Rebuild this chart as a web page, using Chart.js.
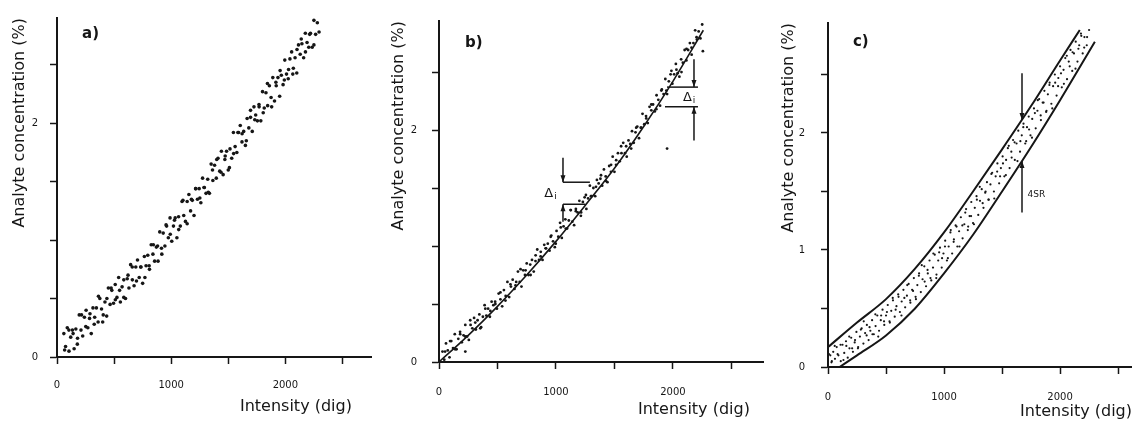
<!DOCTYPE html>
<html>
<head>
<meta charset="utf-8">
<script src="https://cdn.jsdelivr.net/npm/chart.js@4.4.0/dist/chart.umd.min.js"></script>
<style>
  html, body { margin: 0; padding: 0; background: #fff; }
  #wrap { position: relative; width: 1132px; height: 423px; overflow: hidden; }
  canvas { position: absolute; top: 0; }
</style>
</head>
<body>
<div id="wrap">
  <canvas id="panelA" width="380" height="423" style="left:0px"></canvas>
  <canvas id="panelB" width="390" height="423" style="left:378px"></canvas>
  <canvas id="panelC" width="370" height="423" style="left:766px"></canvas>
</div>
<script>
// intensity (dig) vs analyte concentration (%)
const xTickValues = [0, 500, 1000, 1500, 2000, 2500];
const xTickLabels = ["0", "1000", "2000"];
const yTickLabelsAB = ["0", "2"];
const yTickLabelsC = ["0", "1", "2"];
const xTitle = "Intensity (dig)";
const yTitle = "Analyte concentration (%)";

// a) raw calibration measurements
const aPoints = [
  [60,0.20],[75,0.09],[90,0.25],[105,0.05],[120,0.17],[135,0.23],[150,0.07],[165,0.24],[180,0.16],[195,0.36],[210,0.23],[225,0.18],[240,0.34],[255,0.40],[270,0.25],
  [285,0.33],[300,0.20],[315,0.42],[330,0.34],[345,0.42],[360,0.30],[375,0.50],[390,0.41],[405,0.36],[420,0.47],[435,0.35],[450,0.59],[465,0.45],[480,0.57],[495,0.46],
  [510,0.62],[525,0.51],[540,0.68],[555,0.47],[570,0.60],[585,0.66],[600,0.50],[615,0.67],[630,0.59],[645,0.79],[660,0.66],[675,0.61],[690,0.77],[705,0.83],[720,0.68],
  [735,0.77],[750,0.63],[765,0.86],[780,0.78],[795,0.87],[810,0.75],[825,0.96],[840,0.88],[855,0.82],[870,0.94],[885,0.82],[900,1.07],[915,0.93],[930,1.06],[945,0.95],
  [960,1.12],[975,1.02],[990,1.19],[1005,0.99],[1020,1.12],[1035,1.19],[1050,1.02],[1065,1.20],[1080,1.12],[1095,1.33],[1110,1.21],[1125,1.16],[1140,1.33],[1155,1.39],[1170,1.25],
  [1185,1.34],[1200,1.21],[1215,1.44],[1230,1.35],[1245,1.44],[1260,1.32],[1275,1.53],[1290,1.45],[1305,1.40],[1320,1.52],[1335,1.40],[1350,1.65],[1365,1.51],[1380,1.64],[1395,1.53],
  [1410,1.70],[1425,1.59],[1440,1.76],[1455,1.56],[1470,1.69],[1485,1.76],[1500,1.60],[1515,1.78],[1530,1.70],[1545,1.92],[1560,1.80],[1575,1.75],[1590,1.92],[1605,1.98],[1620,1.84],
  [1635,1.93],[1650,1.81],[1665,2.04],[1680,1.96],[1695,2.05],[1710,1.93],[1725,2.14],[1740,2.07],[1755,2.02],[1770,2.14],[1785,2.02],[1800,2.27],[1815,2.13],[1830,2.26],[1845,2.15],
  [1860,2.32],[1875,2.22],[1890,2.39],[1905,2.19],[1920,2.32],[1935,2.39],[1950,2.23],[1965,2.41],[1980,2.33],[1995,2.54],[2010,2.42],[2025,2.38],[2040,2.55],[2055,2.61],[2070,2.47],
  [2085,2.56],[2100,2.43],[2115,2.67],[2130,2.59],[2145,2.68],[2160,2.56],[2175,2.77],[2190,2.69],[2205,2.65],[2220,2.77],[2235,2.65],[2250,2.88],[2265,2.76],[2280,2.86],[2295,2.78],
  [67,0.06],[104,0.23],[141,0.20],[178,0.11],[215,0.36],[252,0.26],[289,0.37],[326,0.28],[363,0.52],[400,0.30],[437,0.50],[474,0.59],[511,0.49],[548,0.57],[585,0.51],
  [622,0.70],[659,0.77],[696,0.65],[733,0.77],[770,0.68],[807,0.78],[844,0.96],[881,0.95],[918,0.88],[955,1.13],[992,1.05],[1029,1.17],[1066,1.09],[1103,1.34],[1140,1.14],
  [1177,1.35],[1214,1.44],[1251,1.36],[1288,1.45],[1325,1.41],[1362,1.60],[1399,1.69],[1436,1.58],[1473,1.72],[1510,1.62],[1547,1.74],[1584,1.92],[1621,1.91],[1658,1.85],[1695,2.11],
  [1732,2.03],[1769,2.16],[1806,2.09],[1843,2.34],[1880,2.14],[1917,2.35],[1954,2.45],[1991,2.37],[2028,2.46],[2065,2.42],[2102,2.63],[2139,2.72],[2176,2.61],[2213,2.76],[2250,2.67]
];

// b) measurements with the fitted calibration curve
const bPoints = [
  [30,0.09],[45,0.02],[60,0.16],[75,0.10],[90,0.04],[105,0.18],[120,0.12],[135,0.24],[150,0.11],[165,0.20],[180,0.26],[195,0.17],[210,0.23],[225,0.32],[240,0.22],
  [255,0.19],[270,0.32],[285,0.29],[300,0.38],[315,0.28],[330,0.36],[345,0.41],[360,0.30],[375,0.39],[390,0.49],[405,0.40],[420,0.46],[435,0.39],[450,0.52],[465,0.49],
  [480,0.52],[495,0.46],[510,0.59],[525,0.54],[540,0.48],[555,0.62],[570,0.57],[585,0.69],[600,0.56],[615,0.65],[630,0.71],[645,0.63],[660,0.69],[675,0.78],[690,0.69],
  [705,0.65],[720,0.79],[735,0.75],[750,0.85],[765,0.75],[780,0.84],[795,0.88],[810,0.78],[825,0.87],[840,0.97],[855,0.88],[870,0.95],[885,0.88],[900,1.01],[915,0.98],
  [930,1.02],[945,0.96],[960,1.09],[975,1.04],[990,0.99],[1005,1.13],[1020,1.08],[1035,1.20],[1050,1.07],[1065,1.17],[1080,1.23],[1095,1.15],[1110,1.22],[1125,1.31],[1140,1.21],
  [1155,1.18],[1170,1.32],[1185,1.29],[1200,1.39],[1215,1.29],[1230,1.38],[1245,1.42],[1260,1.32],[1275,1.41],[1290,1.52],[1305,1.43],[1320,1.50],[1335,1.43],[1350,1.57],[1365,1.54],
  [1380,1.58],[1395,1.52],[1410,1.66],[1425,1.60],[1440,1.55],[1455,1.69],[1470,1.64],[1485,1.77],[1500,1.64],[1515,1.74],[1530,1.80],[1545,1.73],[1560,1.80],[1575,1.89],[1590,1.80],
  [1605,1.77],[1620,1.91],[1635,1.88],[1650,1.99],[1665,1.89],[1680,1.98],[1695,2.03],[1710,1.93],[1725,2.02],[1740,2.14],[1755,2.05],[1770,2.12],[1785,2.06],[1800,2.20],[1815,2.17],
  [1830,2.22],[1845,2.16],[1860,2.30],[1875,2.26],[1890,2.21],[1905,2.35],[1920,2.31],[1935,2.44],[1950,2.31],[1965,2.42],[1980,2.48],[1995,2.40],[2010,2.48],[2025,2.57],[2040,2.49],
  [2055,2.46],[2070,2.61],[2085,2.58],[2100,2.69],[2115,2.60],[2130,2.69],[2145,2.75],[2160,2.65],[2175,2.75],[2190,2.86],[2205,2.78],[2220,2.85],[2235,2.79],[2250,2.91],
  [52,0.09],[95,0.18],[138,0.11],[181,0.24],[224,0.22],[267,0.36],[310,0.34],[353,0.29],[396,0.46],[439,0.44],[482,0.50],[525,0.60],[568,0.53],[611,0.67],[654,0.66],
  [697,0.80],[740,0.79],[783,0.75],[826,0.92],[869,0.91],[912,0.98],[955,1.08],[998,1.02],[1041,1.16],[1084,1.15],[1127,1.31],[1170,1.30],[1213,1.26],[1256,1.44],[1299,1.43],
  [1342,1.51],[1385,1.61],[1428,1.56],[1471,1.70],[1514,1.70],[1557,1.86],[1600,1.86],[1643,1.84],[1686,2.02],[1729,2.02],[1772,2.10],[1815,2.22],[1858,2.18],[1901,2.34],[1944,2.34],
  [1987,2.51],[2030,2.52],[2073,2.50],[2116,2.70],[2159,2.71],[2202,2.80],[225,0.09],[1950,1.84],[2256,2.68]
];
const bFitIntensity = [0, 250, 500, 750, 1000, 1250, 1500, 1750, 2000, 2260];
const bFitConc = [0, 0.23, 0.48, 0.75, 1.04, 1.35, 1.67, 2.03, 2.42, 2.86];

// c) measurements inside the 4 SR band
const cPoints = [
  [20,0.10],[30,0.04],[45,0.13],[60,0.07],[75,0.17],[90,0.10],[110,0.05],[125,0.19],[140,0.12],[155,0.22],[170,0.08],[185,0.16],[200,0.25],[215,0.13],[230,0.21],[245,0.30],[260,0.17],
  [275,0.26],[290,0.33],[305,0.20],[320,0.29],[335,0.36],[350,0.23],[365,0.31],[380,0.40],[395,0.28],[410,0.35],[425,0.44],[440,0.31],[455,0.40],[470,0.49],[485,0.36],[500,0.44],
  [515,0.53],[530,0.39],[545,0.48],[560,0.57],[575,0.43],[590,0.52],[605,0.62],[620,0.47],[635,0.56],[650,0.66],[665,0.51],[680,0.61],[695,0.71],[710,0.55],[725,0.66],[740,0.76],
  [755,0.60],[770,0.70],[785,0.80],[800,0.64],[815,0.75],[830,0.86],[845,0.69],[860,0.80],[875,0.91],[890,0.74],[905,0.85],[920,0.96],[935,0.79],[950,0.91],[965,1.02],[980,0.85],[995,0.97],
  [1010,1.08],[1025,0.91],[1040,1.03],[1055,1.15],[1070,0.97],[1085,1.09],[1100,1.21],[1115,1.03],[1130,1.16],[1145,1.28],[1160,1.10],[1175,1.22],[1190,1.35],[1205,1.17],[1220,1.29],[1235,1.41],[1250,1.23],
  [1265,1.36],[1280,1.46],[1295,1.30],[1310,1.42],[1325,1.52],[1340,1.36],[1355,1.49],[1370,1.58],[1385,1.43],[1400,1.56],[1415,1.66],[1430,1.50],[1445,1.63],[1460,1.74],[1475,1.57],[1490,1.70],
  [1505,1.80],[1520,1.63],[1535,1.77],[1550,1.87],[1565,1.70],[1580,1.84],[1595,1.94],[1610,1.77],[1625,1.91],[1640,2.02],[1655,1.84],[1670,1.98],[1685,2.08],[1700,1.91],[1715,2.05],[1730,2.14],[1745,1.98],
  [1760,2.12],[1775,2.21],[1790,2.04],[1805,2.19],[1820,2.29],[1835,2.11],[1850,2.26],[1865,2.36],[1880,2.18],[1895,2.33],[1910,2.43],[1925,2.25],[1940,2.40],[1955,2.50],[1970,2.32],[1985,2.47],[2000,2.57],
  [2015,2.39],[2030,2.54],[2045,2.64],[2060,2.46],[2075,2.61],[2090,2.71],[2105,2.53],[2120,2.68],[2135,2.78],[2150,2.61],[2165,2.75],[2180,2.85],[2195,2.68],[2210,2.82],[2230,2.75],[2250,2.88],
  [8,0.11],[33,0.05],[58,0.18],[83,0.11],[108,0.19],[133,0.06],[158,0.18],[183,0.26],[208,0.16],[233,0.23],[258,0.16],[283,0.32],[308,0.39],[333,0.27],[358,0.34],
  [383,0.28],[408,0.45],[433,0.26],[458,0.44],[483,0.39],[508,0.47],[533,0.38],[558,0.59],[583,0.49],[608,0.60],[633,0.44],[658,0.59],[683,0.70],[708,0.57],[733,0.65],
  [758,0.58],[783,0.78],[808,0.87],[833,0.73],[858,0.83],[883,0.76],[908,0.97],[933,0.76],[958,0.98],[983,0.93],[1008,1.03],[1033,0.93],[1058,1.17],[1083,1.07],[1108,1.20],
  [1133,1.03],[1158,1.21],[1183,1.32],[1208,1.20],[1233,1.29],[1258,1.22],[1283,1.43],[1308,1.54],[1333,1.40],[1358,1.50],[1383,1.43],[1408,1.65],[1433,1.44],[1458,1.67],[1483,1.63],
  [1508,1.74],[1533,1.64],[1558,1.89],[1583,1.79],[1608,1.92],[1633,1.76],[1658,1.93],[1683,2.05],[1708,1.93],[1733,2.03],[1758,1.96],[1783,2.17],[1808,2.28],[1833,2.15],[1858,2.26],
  [1883,2.19],[1908,2.41],[1933,2.21],[1958,2.43],[1983,2.40],[2008,2.51],[2033,2.42],[2058,2.66],[2083,2.57],[2108,2.69],[2133,2.55],[2158,2.72],[2183,2.83],[2208,2.73],[2233,2.82]
];
const cUpperIntensity = [0, 250, 500, 750, 1000, 1250, 1500, 1750, 2000, 2170];
const cUpperConc = [0.17, 0.38, 0.58, 0.84, 1.15, 1.50, 1.86, 2.23, 2.62, 2.88];
const cLowerIntensity = [100, 250, 500, 750, 1000, 1250, 1500, 1750, 2000, 2300];
const cLowerConc = [0, 0.10, 0.27, 0.50, 0.80, 1.13, 1.50, 1.88, 2.28, 2.78];

const INK = "#161616";
Chart.defaults.font.family = '"DejaVu Sans", sans-serif';
Chart.defaults.color = INK;

function pickLabel(list, v) {
  const hit = list.find((t) => Math.abs(Number(t) - v) < 1e-6);
  return hit === undefined ? "" : hit;
}

function arrow(ctx, X, y0, y1) {
  ctx.beginPath();
  ctx.moveTo(X, y0);
  ctx.lineTo(X, y1);
  ctx.stroke();
  const d = Math.sign(y1 - y0);
  ctx.beginPath();
  ctx.moveTo(X, y1);
  ctx.lineTo(X - 2.5, y1 - d * 7);
  ctx.lineTo(X + 2.5, y1 - d * 7);
  ctx.closePath();
  ctx.fill();
}

// panel letter, x title, brackets, arrows and small notes
const marks = {
  id: "marks",
  afterDatasetsDraw(chart, args, o) {
    const { ctx, scales: { x, y } } = chart;
    const px = (v) => x.getPixelForValue(v);
    const py = (v) => y.getPixelForValue(v);
    ctx.save();
    ctx.fillStyle = INK;
    ctx.strokeStyle = INK;
    ctx.textBaseline = "middle";
    ctx.font = 'bold 15px "DejaVu Sans"';
    ctx.fillText(o.letter, px(o.letterAt[0]), py(o.letterAt[1]));

    // axis title hangs off the right end of the x axis
    ctx.font = '16px "DejaVu Sans"';
    ctx.textAlign = "right";
    ctx.fillText(xTitle, px(o.xTitleEnd), chart.height - o.xTitleLift);
    ctx.textAlign = "left";

    ctx.lineWidth = 1.5;
    (o.arrows || []).forEach((a) => arrow(ctx, px(a.x), py(a.from), py(a.to)));
    (o.rules || []).forEach((r) => {
      ctx.beginPath();
      ctx.moveTo(px(r.x0), py(r.y));
      ctx.lineTo(px(r.x1), py(r.y));
      ctx.stroke();
    });
    (o.notes || []).forEach((n) => {
      ctx.font = n.size + 'px "DejaVu Sans"';
      ctx.fillText(n.text, px(n.x), py(n.y));
      if (n.sub) {
        const w = ctx.measureText(n.text).width;
        ctx.font = Math.round(n.size * 0.7) + 'px "DejaVu Sans"';
        ctx.fillText(n.sub, px(n.x) + w + 1, py(n.y) + 3);
      }
    });
    ctx.restore();
  },
};

function buildPanel(canvasId, p) {
  const datasets = [{
    data: p.points.map(([x, y]) => ({ x, y })),
    pointRadius: p.dot,
    pointBackgroundColor: INK,
    pointBorderWidth: 0,
  }];
  p.curves.forEach(([xs, ys]) => {
    datasets.push({
      data: xs.map((x, i) => ({ x, y: ys[i] })),
      showLine: true,
      pointRadius: 0,
      borderColor: INK,
      borderWidth: p.lineWidth,
      cubicInterpolationMode: "monotone",
    });
  });

  return new Chart(document.getElementById(canvasId), {
    type: "scatter",
    data: { datasets },
    options: {
      responsive: false,
      animation: false,
      devicePixelRatio: 1,
      events: [],
      layout: { padding: { left: 0, top: p.top, right: p.right, bottom: 0 } },
      plugins: {
        legend: { display: false },
        tooltip: { enabled: false },
        marks: p.marks,
      },
      scales: {
        x: {
          type: "linear",
          min: 0,
          max: p.xMax,
          // a 500 step with a max off the step grid gets respaced by the tick generator
          afterBuildTicks: (s) => { s.ticks = xTickValues.map((value) => ({ value })); },
          afterFit: (s) => { s.height = 423 - p.bottom; },
          border: { display: true, color: INK, width: 2 },
          grid: { drawOnChartArea: false, tickLength: 7, tickColor: INK, tickWidth: 1.5 },
          ticks: {
            autoSkip: false,
            maxRotation: 0,
            padding: p.xPad,
            font: { size: 10 },
            callback: (v) => pickLabel(xTickLabels, v),
          },
        },
        y: {
          type: "linear",
          min: 0,
          max: p.yMax,
          afterFit: (s) => { s.width = p.left; },
          border: { display: true, color: INK, width: 2 },
          grid: { drawOnChartArea: false, tickLength: 7, tickColor: INK, tickWidth: 1.5 },
          ticks: {
            stepSize: 0.5,
            includeBounds: false,
            autoSkip: false,
            padding: p.yPad,
            font: { size: 10 },
            callback: (v) => pickLabel(p.yLabels, v),
          },
          title: {
            display: true,
            text: yTitle,
            align: "end",
            font: { size: 16 },
            padding: { top: p.yTitlePad, bottom: 0 },
          },
        },
      },
    },
    plugins: [marks],
  });
}

buildPanel("panelA", {
  points: aPoints, dot: 1.8, curves: [], lineWidth: 0,
  left: 57, right: 9, top: 18, bottom: 357, xMax: 2750, yMax: 2.9,
  xPad: 15, yPad: 12, yTitlePad: 10, yLabels: yTickLabelsAB,
  marks: { letter: "a)", letterAt: [220, 2.76], xTitleEnd: 2583, xTitleLift: 16 },
});

buildPanel("panelB", {
  points: bPoints, dot: 1.4, curves: [[bFitIntensity, bFitConc]], lineWidth: 1.6,
  left: 61, right: 5, top: 18, bottom: 362, xMax: 2770, yMax: 2.94,
  xPad: 17, yPad: 15, yTitlePad: 11, yLabels: yTickLabelsAB,
  marks: {
    letter: "b)", letterAt: [222, 2.75], xTitleEnd: 2658, xTitleLift: 13,
    arrows: [
      { x: 1060, from: 1.76, to: 1.55 }, { x: 1060, from: 1.21, to: 1.36 },
      { x: 2180, from: 2.61, to: 2.37 }, { x: 2180, from: 1.91, to: 2.20 },
    ],
    rules: [
      { y: 1.55, x0: 1060, x1: 1290 }, { y: 1.36, x0: 1060, x1: 1250 },
      { y: 2.37, x0: 1949, x1: 2214 }, { y: 2.20, x0: 1932, x1: 2214 },
    ],
    notes: [
      { text: "\u0394", sub: "i", x: 900, y: 1.45, size: 13 },
      { text: "\u0394", sub: "i", x: 2085, y: 2.28, size: 13 },
    ],
  },
});

buildPanel("panelC", {
  points: cPoints, dot: 1.1,
  curves: [[cUpperIntensity, cUpperConc], [cLowerIntensity, cLowerConc]], lineWidth: 2,
  left: 62, right: 0, top: 23, bottom: 367, xMax: 2620, yMax: 2.94,
  xPad: 17, yPad: 16, yTitlePad: 13, yLabels: yTickLabelsC,
  marks: {
    letter: "c)", letterAt: [215, 2.78], xTitleEnd: 2620, xTitleLift: 11,
    arrows: [{ x: 1672, from: 2.51, to: 2.11 }, { x: 1672, from: 1.32, to: 1.76 }],
    notes: [{ text: "4SR", x: 1720, y: 1.47, size: 9 }],
  },
});
</script>
</body>
</html>
